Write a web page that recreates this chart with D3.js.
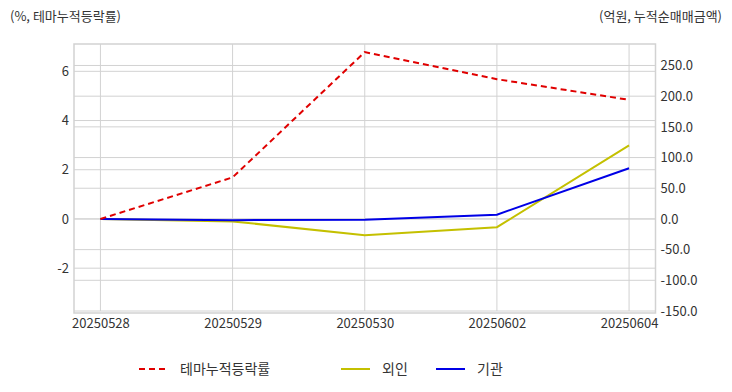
<!DOCTYPE html>
<html><head><meta charset="utf-8">
<script src="https://cdn.jsdelivr.net/npm/d3@7"></script>
<style>
body{margin:0;background:#fff;}
svg{display:block;font-family:"Noto Sans CJK KR","Noto Sans",sans-serif;}
</style></head>
<body><svg id="c" width="732" height="392"></svg>
<script>
const dates = ["20250528","20250529","20250530","20250602","20250604"];
const themeRate = [0, 1.69, 6.78, 5.68, 4.84];
const foreign = [0, -4, -26.5, -13.5, 120];
const institution = [0, -2, -1.2, 7, 82.5];
const leftTicks = [-2, 0, 2, 4, 6];
const rightTicks = [-150, -100, -50, 0, 50, 100, 150, 200, 250];

const svg = d3.select("#c");
const L = 74, R = 655.5, T = 44, B = 311;
const x = d3.scalePoint().domain(dates).range([L, R]).padding(0.2);
const yL = d3.scaleLinear().domain([-3.74, 7.11]).range([B, T]);
const yR = d3.scaleLinear().domain([-150, 285]).range([B, T]);
const grid = "#d2d2d2";
const hy = f => (d => f(d).replace("\u2212", "-"));

const g = svg.append("g");
g.selectAll(".gl").data(leftTicks).enter().append("line")
  .attr("x1", L).attr("x2", R).attr("y1", d => yL(d)).attr("y2", d => yL(d))
  .attr("stroke", grid).attr("stroke-width", 1);
g.selectAll(".gr").data(rightTicks).enter().append("line")
  .attr("x1", L).attr("x2", R).attr("y1", d => yR(d)).attr("y2", d => yR(d))
  .attr("stroke", grid).attr("stroke-width", 1);
g.selectAll(".gv").data(dates).enter().append("line")
  .attr("x1", d => x(d)).attr("x2", d => x(d)).attr("y1", T).attr("y2", B)
  .attr("stroke", grid).attr("stroke-width", 1);
g.append("rect").attr("x", L).attr("y", T).attr("width", R - L).attr("height", B - T + 2)
  .attr("fill", "none").attr("stroke", grid).attr("stroke-width", 1.5);

const axL = svg.append("g").attr("transform", `translate(${L},0)`)
  .call(d3.axisLeft(yL).tickValues(leftTicks).tickSize(0).tickPadding(5).tickFormat(hy(d3.format("d"))));
const axR = svg.append("g").attr("transform", `translate(${R},0)`)
  .call(d3.axisRight(yR).tickValues(rightTicks).tickSize(0).tickPadding(5).tickFormat(hy(d3.format(".1f"))));
const axX = svg.append("g").attr("transform", `translate(0,${B})`)
  .call(d3.axisBottom(x).tickSize(0).tickPadding(8));
[axL, axR, axX].forEach(a => {
  a.select(".domain").remove();
  a.selectAll("text").attr("fill", "#333").style("font-size", "13px")
   .style("font-family", '"Noto Sans CJK KR","Noto Sans",sans-serif');
});

const lineL = d3.line().x((d, i) => x(dates[i])).y(d => yL(d));
const lineR = d3.line().x((d, i) => x(dates[i])).y(d => yR(d));
svg.append("path").attr("d", lineR(foreign)).attr("fill", "none")
  .attr("stroke", "#c4c000").attr("stroke-width", 2);
svg.append("path").attr("d", lineR(institution)).attr("fill", "none")
  .attr("stroke", "#0000e6").attr("stroke-width", 2);
svg.append("path").attr("d", lineL(themeRate)).attr("fill", "none")
  .attr("stroke", "#e00000").attr("stroke-width", 2).attr("stroke-dasharray", "6,4");

svg.append("text").attr("x", 10).attr("y", 21).attr("fill", "#333").style("font-size", "13px")
  .text("(%, 테마누적등락률)");
svg.append("text").attr("x", 722).attr("y", 21).attr("text-anchor", "end").attr("fill", "#333")
  .style("font-size", "13px").text("(억원, 누적순매매금액)");

const legend = [
  {name: "테마누적등락률", color: "#e00000", dash: "6,4", x: 139},
  {name: "외인", color: "#c4c000", dash: null, x: 341},
  {name: "기관", color: "#0000e6", dash: null, x: 436}
];
const lg = svg.append("g");
legend.forEach(l => {
  lg.append("line").attr("x1", l.x).attr("x2", l.x + 29).attr("y1", 369).attr("y2", 369)
    .attr("stroke", l.color).attr("stroke-width", 2).attr("stroke-dasharray", l.dash);
  lg.append("text").attr("x", l.x + 41).attr("y", 374).attr("fill", "#333")
    .style("font-size", "14px").text(l.name);
});
</script></body></html>
